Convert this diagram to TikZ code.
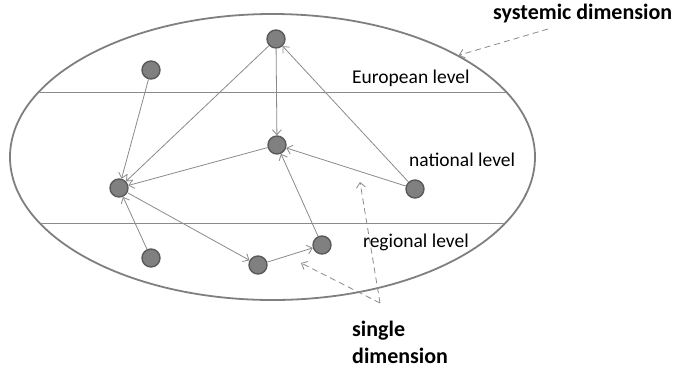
\documentclass[tikz,border=0pt]{standalone}
\usepackage{fontspec}
\setmainfont{Carlito}
\usepackage{xcolor}
\definecolor{ringGray}{HTML}{7F7F7F}
\definecolor{lineGray}{HTML}{8A8A8A}
\definecolor{dotFill}{HTML}{808080}
\definecolor{dotEdge}{HTML}{5A5A5A}
\usetikzlibrary{arrows.meta,shapes.geometric}
\tikzset{
  actor/.style={
    circle,
    draw=dotEdge,
    fill=dotFill,
    line width=1.4pt,
    minimum size=18pt,
    inner sep=0pt
  },
  levelring/.style={
    ellipse,
    draw=ringGray,
    line width=1.8pt,
    minimum width=525pt,
    minimum height=286pt,
    inner sep=0pt
  },
  levelline/.style={
    draw=lineGray,
    line width=0.9pt
  },
  levellabel/.style={
    anchor=base west,
    font=\fontsize{19.5}{22}\selectfont,
    inner sep=0pt
  },
  dimlabel/.style={
    anchor=base west,
    align=left,
    font=\fontsize{22}{26.7}\selectfont\bfseries,
    inner sep=0pt
  },
  flow/.style={
    draw=lineGray,
    -{Straight Barb[length=5pt,width=9pt]},
    line width=0.8pt
  },
  pointer/.style={
    draw=lineGray,
    dashed,
    dash pattern=on 6pt off 4pt,
    -{Straight Barb[length=5pt,width=9pt]},
    line width=0.8pt
  }
}
\begin{document}
\begin{tikzpicture}[x=1pt,y=-1pt]
  \useasboundingbox (0,0) rectangle (676,367);
  % levels
  \node[levelring] (ring) at (272.5,157) {};
  \begin{scope}
    \clip (272.5,157) ellipse (261.6pt and 142.1pt);
    \draw[levelline] (0,92) -- (676,92);
    \draw[levelline] (0,223) -- (676,223);
  \end{scope}
  \node[levellabel] (eu) at (352,83) {European level};
  \node[levellabel] (nat) at (409,166) {national level};
  \node[levellabel] (reg) at (363,247) {regional level};
  % actors
  \node[actor] (eutop) at (276,39) {};
  \node[actor] (euleft) at (151,70) {};
  \node[actor] (natmid) at (277,145) {};
  \node[actor] (natleft) at (119,188) {};
  \node[actor] (natright) at (415,189) {};
  \node[actor] (regleft) at (151,258) {};
  \node[actor] (regmid) at (258,265) {};
  \node[actor] (regright) at (322,245) {};
  \foreach \from/\to in {eutop/natmid,eutop/natleft,euleft/natleft,natmid/natleft,natright/natmid,natright/eutop,regright/natmid,regleft/natleft,natleft/regmid,regmid/regright}{\draw[flow] (\from) -- (\to);}
  % dimensions
  \node[dimlabel] (sys) at (493,19.5) {systemic dimension};
  \node[dimlabel] (single) at (352,363) {single\\dimension};
  \coordinate (systail) at (548,29);
  \coordinate (fork) at (380,303);
  \coordinate (natgap) at (360,182);
  \coordinate (reggap) at (301,263);
  \draw[pointer] (systail) -- (ring.north east);
  \draw[pointer] (fork) -- (natgap);
  \draw[pointer] (fork) -- (reggap);
\end{tikzpicture}
\end{document}
